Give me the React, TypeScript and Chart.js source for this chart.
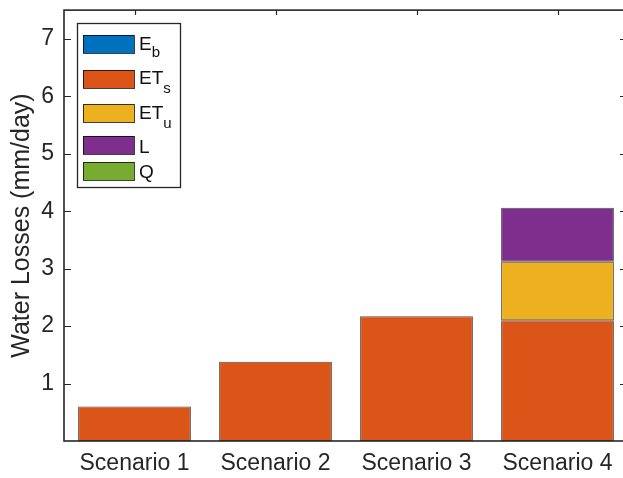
import React, { useEffect, useRef } from "react";
import { Chart, registerables } from "chart.js";

Chart.register(...registerables);

// Water-loss components per scenario (mm/day)
const scenarios = ["Scenario 1", "Scenario 2", "Scenario 3", "Scenario 4"];
const eb = [0, 0, 0, 0];
const ets = [0.6, 1.38, 2.17, 2.1];
const etu = [0, 0, 0, 1.02];
const leakage = [0, 0, 0, 0.94];
const runoff = [0, 0, 0, 0];
const yTicks = [1, 2, 3, 4, 5, 6, 7];

// Legend entries: main text plus subscript
const legendMain = ["E", "ET", "ET", "L", "Q"];
const legendSub = ["b", "s", "u", "", ""];

const COLORS = ["#0072BD", "#DC5518", "#EDB120", "#7E2F8E", "#77AC30"];
const AXIS = "#262626";
const FONT = '"Liberation Sans", Arial, Helvetica, sans-serif';
const TICK = 7;
// the axes box runs a few pixels past the right edge of the canvas
const RIGHT_OVERHANG = 5;

const widen = {
  id: "widen",
  afterLayout(chart: any) {
    const x = chart.scales.x;
    const right = chart.width + RIGHT_OVERHANG;
    chart.chartArea.right = right;
    chart.chartArea.width = right - chart.chartArea.left;
    x.right = right;
    x.width = right - x.left;
    x.configure();
  },
};

const frame = {
  id: "frame",
  afterDatasetsDraw(chart: any) {
    const { ctx, chartArea, scales } = chart;
    const { left, right, top, bottom } = chartArea;
    ctx.save();
    ctx.strokeStyle = AXIS;
    ctx.lineWidth = 1.6;
    ctx.strokeRect(left, top, right - left, bottom - top);
    ctx.lineWidth = 1.2;
    ctx.beginPath();
    yTicks.forEach((v) => {
      const py = Math.round(scales.y.getPixelForValue(v)) + 0.5;
      ctx.moveTo(left, py);
      ctx.lineTo(left + TICK, py);
      ctx.moveTo(right, py);
      ctx.lineTo(right - TICK - 1, py);
    });
    scenarios.forEach((_, i) => {
      const px = Math.round(scales.x.getPixelForValue(i)) + 0.5;
      ctx.moveTo(px, top);
      ctx.lineTo(px, top + TICK - 2);
    });
    ctx.stroke();
    ctx.restore();
  },
};

const legendBox = {
  id: "legendBox",
  afterDraw(chart: any) {
    const { ctx } = chart;
    const boxL = 77, boxT = 23, boxR = 180, boxB = 187;
    const swL = 83, swW = 51, swH = 18;
    const swTop = [35, 70, 104, 136, 162];
    const baseMain = [50, 84, 119, 153, 178];
    const baseSub = [57, 93, 128, 0, 0];
    ctx.save();
    ctx.fillStyle = "#ffffff";
    ctx.fillRect(boxL, boxT, boxR - boxL, boxB - boxT);
    ctx.strokeStyle = AXIS;
    ctx.lineWidth = 1.3;
    ctx.strokeRect(boxL + 0.5, boxT + 0.5, boxR - boxL, boxB - boxT);
    legendMain.forEach((label, i) => {
      ctx.fillStyle = COLORS[i];
      ctx.fillRect(swL, swTop[i], swW, swH);
      ctx.strokeStyle = "rgba(0,0,0,0.75)";
      ctx.lineWidth = 1;
      ctx.strokeRect(swL + 0.5, swTop[i] + 0.5, swW, swH);
      ctx.fillStyle = "#111";
      ctx.textBaseline = "alphabetic";
      ctx.textAlign = "left";
      ctx.font = `19px ${FONT}`;
      const tx = 139;
      ctx.fillText(label, tx, baseMain[i]);
      if (legendSub[i]) {
        const w = ctx.measureText(label).width;
        ctx.font = `15px ${FONT}`;
        ctx.fillText(legendSub[i], tx + w, baseSub[i]);
      }
    });
    ctx.restore();
  },
};

export default function App() {
  const ref = useRef<HTMLCanvasElement>(null);

  useEffect(() => {
    const names = ["Eb", "ETs", "ETu", "L", "Q"];
    const series = [eb, ets, etu, leakage, runoff];
    const chart = new Chart(ref.current!, {
      type: "bar",
      data: {
        labels: scenarios,
        datasets: series.map((values, i) => ({
          label: names[i],
          data: values,
          backgroundColor: COLORS[i],
          borderColor: "rgba(20,20,20,0.75)",
          borderWidth: (c: any) => (c.raw ? 1 : 0),
          borderSkipped: false,
          categoryPercentage: 1,
          barPercentage: 0.8,
        })),
      },
      options: {
        responsive: false,
        animation: false,
        devicePixelRatio: 1,
        layout: { padding: { top: 0, right: 0, left: 0, bottom: 0 } },
        plugins: {
          legend: { display: false },
          tooltip: { enabled: false },
        },
        scales: {
          x: {
            stacked: true,
            offset: true,
            grid: { display: false, drawTicks: false },
            border: { display: false },
            ticks: {
              color: AXIS,
              font: { family: FONT, size: 23 },
              padding: 9,
              maxRotation: 0,
              autoSkip: false,
            },
            afterFit: (s: any) => {
              s.height = 37;
            },
          },
          y: {
            stacked: true,
            min: 0,
            max: 7.5,
            grid: { display: false, drawTicks: false },
            border: { display: false },
            afterBuildTicks: (s: any) => {
              s.ticks = yTicks.map((v) => ({ value: v }));
            },
            ticks: {
              color: AXIS,
              font: { family: FONT, size: 23, lineHeight: 0.01 },
              padding: 10,
            },
            title: {
              display: true,
              text: "Water Losses (mm/day)",
              color: AXIS,
              font: { family: FONT, size: 25 },
              padding: { top: 7, bottom: 0 },
            },
            afterFit: (s: any) => {
              s.width = 64;
            },
          },
        },
      },
      plugins: [widen, frame, legendBox],
    });
    return () => chart.destroy();
  }, []);

  return (
    <div
      style={{
        position: "fixed",
        left: 0,
        top: 0,
        width: 623,
        height: 478,
        overflow: "hidden",
        background: "#ffffff",
      }}
    >
      <canvas ref={ref} width={623} height={478} style={{ width: 623, height: 478, display: "block" }} />
    </div>
  );
}
